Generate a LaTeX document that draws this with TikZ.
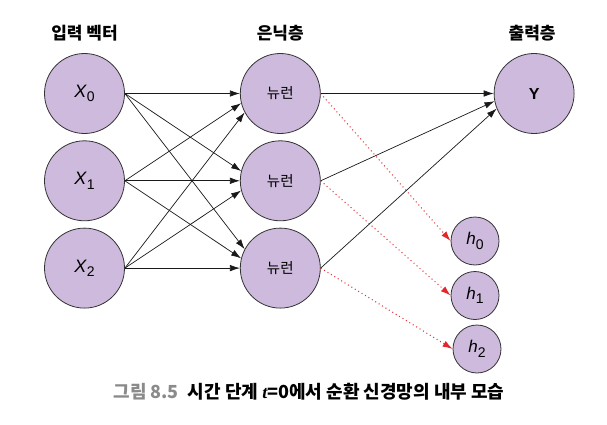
\documentclass[tikz,border=0pt]{standalone}
\usepackage{fontspec}
\setmainfont{Liberation Sans}
\newfontfamily\kr{Noto Sans CJK KR}
\newfontfamily\tserif{Liberation Serif}
\usetikzlibrary{positioning, arrows.meta}
\definecolor{neuronfill}{HTML}{CDBADC}
\definecolor{dotred}{HTML}{E3262B}
\definecolor{capgray}{HTML}{8A8A8A}
\newcommand{\vsub}[2]{\textit{#1}\raisebox{-4.5pt}{\fontsize{14}{14}\selectfont #2}}

\begin{document}
\begin{tikzpicture}[
  x=1pt, y=1pt,
  bigcircle/.style={draw=black!80, line width=0.8pt, fill=neuronfill, circle, minimum size=80pt, inner sep=0pt, font=\fontsize{18}{18}\selectfont},
  smallcircle/.style={bigcircle, minimum size=48pt, font=\fontsize{17}{17}\selectfont},
  head/.style={inner sep=0pt, font=\kr\bfseries\fontsize{17}{19}\selectfont},
  arrow/.style={black!90, line width=0.7pt, -{Latex[length=10pt,width=6.5pt]}},
  redarrow/.style={dotred, line width=1pt, dash pattern=on 1pt off 3pt, -{Latex[length=10pt,width=6.5pt]}},
]
\useasboundingbox (0,0) rectangle (607,424);

  % Input vector
  \node (x0) [bigcircle] at (84.5,330.5) {\vsub{X}{0}};
  \node (x1) [bigcircle, below=6.5pt of x0] {\vsub{X}{1}};
  \node (x2) [bigcircle, below=6.5pt of x1] {\vsub{X}{2}};

  % Hidden layer
  \node (hid0) [bigcircle, right=115pt of x0] {\kr\fontsize{14.5}{14.5}\selectfont 뉴런};
  \node (hid1) [bigcircle, right=115pt of x1] {\kr\fontsize{14.5}{14.5}\selectfont 뉴런};
  \node (hid2) [bigcircle, right=115pt of x2] {\kr\fontsize{14.5}{14.5}\selectfont 뉴런};

  % Output layer
  \node (Y) [bigcircle, right=173pt of hid0] {\fontsize{16}{16}\selectfont\textbf{Y}};

  % Hidden states
  \node (h0) [smallcircle] at (475,183) {\vsub{h}{0}};
  \node (h1) [smallcircle] at (475,128.5) {\vsub{h}{1}};
  \node (h2) [smallcircle] at (477,75) {\vsub{h}{2}};

  % Headings
  \node (inhead) [head, above=12pt of x0] {입력 벡터};
  \node (hidhead) [head, above=12pt of hid0] {은닉층};
  \node (outhead) [head, above=12pt of Y, xshift=-2pt] {출력층};

  % Caption
  \node (caption) at (309,32) {\kr\bfseries\fontsize{18}{20}\selectfont{\color{capgray}그림 8.5}\hspace{9pt}시간 단계 {\tserif\itshape t}=0에서 순환 신경망의 내부 모습};

  \def\M{2} % Number of neurons per layer

  % Hidden layer to hidden states (dotted)
  \foreach \j in {0,...,\M} {
    \draw [redarrow] (hid\j.east) -- (h\j.west);
  }

  % Input vector to hidden layer
  \foreach \i in {0,...,\M} {
    \foreach \j in {0,...,\M} {
      \pgfmathtruncatemacro\ang{180+14*(\i-\j)}
      \draw [arrow] (x\i.east) -- (hid\j.\ang);
    }
  }

  % Hidden layer to output
  \foreach \j in {0,...,\M} {
    \pgfmathtruncatemacro\ang{180+11*\j}
    \draw [arrow] (hid\j.east) -- (Y.\ang);
  }

\end{tikzpicture}
\end{document}
